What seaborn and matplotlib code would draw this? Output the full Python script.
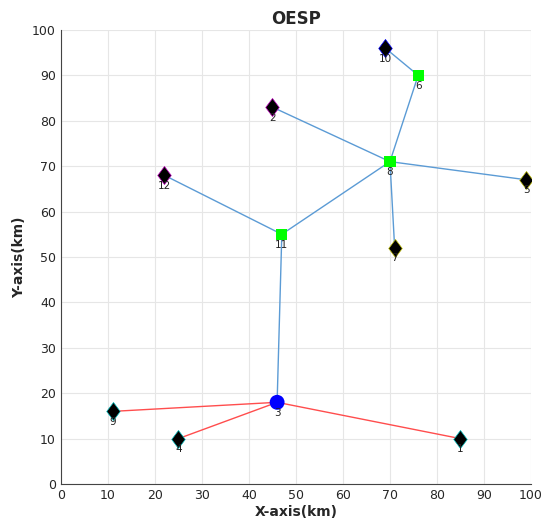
import pandas as pd
import numpy as np
import matplotlib
matplotlib.use('Agg')
import matplotlib.pyplot as plt
from matplotlib.path import Path
import seaborn as sns

# Node positions (km)
node_id = [1, 2, 3, 4, 5, 6, 7, 8, 9, 10, 11, 12]
node_x = [85, 45, 46, 25, 99, 76, 71, 70, 11, 69, 47, 22]
node_y = [10, 83, 18, 10, 67, 90, 52, 71, 16, 96, 55, 68]
node_kind = ['sensor', 'sensor', 'sink', 'sensor', 'sensor', 'relay',
             'sensor', 'relay', 'sensor', 'sensor', 'relay', 'sensor']
node_edge = ['c', 'm', 'b', 'c', 'y', 'g', 'y', 'g', 'c', 'b', 'g', 'm']

# Links between nodes
blue_links = [(10, 6), (6, 8), (2, 8), (8, 5), (8, 7), (8, 11), (12, 11), (11, 3)]
red_links = [(3, 9), (3, 4), (3, 1)]

nodes = pd.DataFrame({'id': node_id, 'x': node_x, 'y': node_y,
                      'kind': node_kind, 'edge': node_edge}).set_index('id')

rows = []
for k, (a, b) in enumerate(blue_links + red_links):
    grp = 'blue' if (a, b) in blue_links else 'red'
    for n in (a, b):
        rows.append({'link': k, 'grp': grp, 'x': nodes.loc[n, 'x'], 'y': nodes.loc[n, 'y']})
links = pd.DataFrame(rows)

# matlab-like diamond, a bit taller than wide
diamond = Path([(0, 1), (0.75, 0), (0, -1), (-0.75, 0), (0, 1)],
               [Path.MOVETO, Path.LINETO, Path.LINETO, Path.LINETO, Path.CLOSEPOLY])

sns.set_style('white')
fig = plt.figure(figsize=(5.48, 5.25), dpi=100)
ax = fig.add_axes([0.111, 0.078, 0.858, 0.865])

sns.lineplot(data=links, x='x', y='y', units='link', hue='grp', estimator=None,
             sort=False, palette={'blue': '#5b9bd5', 'red': '#ff4d4d'},
             linewidth=1, legend=False, ax=ax)

sens = nodes[nodes['kind'] == 'sensor']
for _, r in sens.iterrows():
    ax.plot(r['x'], r['y'], marker=diamond, color='black', markersize=13,
            markeredgecolor=r['edge'], markeredgewidth=0.5, zorder=3)
sns.scatterplot(data=nodes[nodes['kind'] == 'relay'], x='x', y='y', marker='s',
                color='#00ff00', s=65, edgecolor='none', ax=ax, zorder=3)
sns.scatterplot(data=nodes[nodes['kind'] == 'sink'], x='x', y='y', marker='o',
                color='#0000ff', s=115, edgecolor='none', ax=ax, zorder=3)

for n, r in nodes.iterrows():
    ax.text(r['x'], r['y'] - 1.2, str(n), ha='center', va='top', fontsize=7.5,
            color='#222222', zorder=4)

ax.set_xlim(0, 100)
ax.set_ylim(0, 100)
ax.set_xticks(range(0, 101, 10))
ax.set_yticks(range(0, 101, 10))
ax.grid(True, color='#e6e6e6', linewidth=0.8)
ax.tick_params(direction='in', length=3, labelsize=9, color='#444444')
for s in ['top', 'right']:
    ax.spines[s].set_visible(False)
for s in ['left', 'bottom']:
    ax.spines[s].set_color('#444444')
    ax.spines[s].set_linewidth(0.8)
ax.set_xlabel('X-axis(km)', fontsize=10, fontweight='bold', labelpad=2)
ax.set_ylabel('Y-axis(km)', fontsize=10, fontweight='bold', labelpad=4)
ax.set_title('OESP', fontsize=12, fontweight='bold', pad=4)

plt.savefig('out.png', dpi=100)
